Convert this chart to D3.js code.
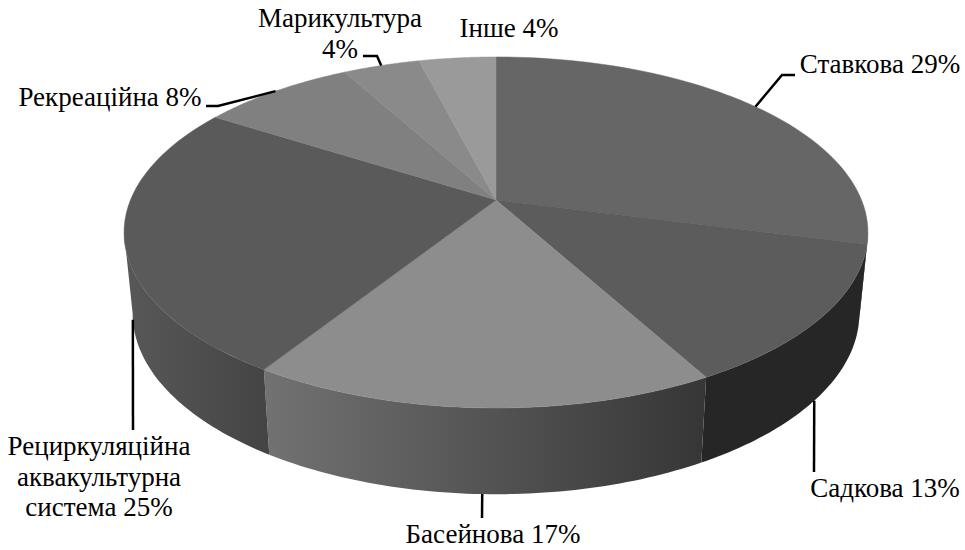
<!DOCTYPE html>
<html>
<head>
<meta charset="utf-8">
<script src="https://cdn.jsdelivr.net/npm/d3@7"></script>
<style>
  html, body { margin: 0; padding: 0; background: #fff; }
  svg { display: block; }
  text { font-family: "Liberation Serif", serif; font-size: 27px; fill: #000; }
</style>
</head>
<body>
<svg></svg>
<script>
const width = 965;
const height = 550;

// shares, clockwise from twelve o'clock; the percentage goes after the last name line
const categories = [
    ['Ставкова'],
    ['Садкова'],
    ['Басейнова'],
    ['Рециркуляційна', 'аквакультурна', 'система'],
    ['Рекреаційна'],
    ['Марикультура', ''],
    ['Інше']
];
const values = [29, 13, 17, 25, 8, 4, 4];

// greys for the top faces and for the two ends of each side wall
const topColors = ['#666666', '#5c5c5c', '#8d8d8d', '#5a5a5a', '#808080', '#8a8a8a', '#9a9a9a'];
const wallLeft = ['#2a2a2a', '#262626', '#727272', '#585858', '#808080', '#8a8a8a', '#9a9a9a'];
const wallRight = ['#2a2a2a', '#262626', '#363636', '#444444', '#808080', '#8a8a8a', '#9a9a9a'];

// where each label is centred, and the leader's elbow points
const labelX = [880, 885, 493, 99, 110, 340, 509];
const labelY = [73, 497, 543, 455, 106, 27, 37];
const leaderElbows = [
    [[782, 75], [795, 75]],
    [[814, 472]],
    [[482, 518]],
    [[133, 430]],
    [[218, 106], [206, 106]],
    [[377, 56], [363, 56]],
    null
];

// perspective of the disc: centre of the top face, radii and foreshortening
const cx = 496;
const cy = 200;
const radiusX = 365.5;
const radiusY = 169.5;
const persp = 0.185;
const lowerScaleX = 0.977;
const lowerScaleY = 1.03;
const lowerY = 280;

// silhouette angles of the disc, where the side walls end
const wallStart = Math.acos(-persp);
const wallEnd = 2 * Math.PI - wallStart;

const svg = d3.select('svg').attr('width', width).attr('height', height);
const defs = svg.append('defs');

const pie = d3.pie().sort(null).value(d => d);
const arcs = pie(values);

function topPoint(a) {
    const d = 1 + persp * Math.cos(a);
    return [cx + radiusX * Math.sin(a) / d, cy - radiusY * Math.cos(a) / d];
}

function bottomPoint(a) {
    const p = topPoint(a);
    return [cx + lowerScaleX * (p[0] - cx), lowerY + lowerScaleY * (p[1] - cy)];
}

function sweep(a0, a1, fn) {
    return d3.range(0, 61).map(i => fn(a0 + (a1 - a0) * i / 60));
}

const line = d3.line();

// side walls, only where they face the viewer
arcs.forEach((d, i) => {
    const a0 = Math.max(d.startAngle, wallStart);
    const a1 = Math.min(d.endAngle, wallEnd);
    if (a1 <= a0) return;
    const upper = sweep(a0, a1, topPoint);
    const lower = sweep(a1, a0, bottomPoint);
    const xs = upper.concat(lower).map(p => p[0]);
    const grad = defs.append('linearGradient')
        .attr('id', 'wall' + i)
        .attr('gradientUnits', 'userSpaceOnUse')
        .attr('x1', d3.min(xs)).attr('x2', d3.max(xs))
        .attr('y1', 0).attr('y2', 0);
    grad.append('stop').attr('offset', 0).attr('stop-color', wallLeft[i]);
    grad.append('stop').attr('offset', 1).attr('stop-color', wallRight[i]);
    svg.append('path')
        .attr('d', line(upper.concat(lower)) + 'Z')
        .attr('fill', 'url(#wall' + i + ')');
});

// top faces
arcs.forEach((d, i) => {
    const rim = sweep(d.startAngle, d.endAngle, topPoint);
    svg.append('path')
        .attr('d', line([[cx, cy]].concat(rim)) + 'Z')
        .attr('fill', topColors[i])
        .attr('stroke', topColors[i])
        .attr('stroke-width', 0.5);
});

// leaders start on the rim at the middle of the slice
arcs.forEach((d, i) => {
    if (!leaderElbows[i]) return;
    const mid = (d.startAngle + d.endAngle) / 2;
    const onWall = mid > wallStart && mid < wallEnd;
    const start = onWall ? bottomPoint(mid) : topPoint(mid);
    svg.append('path')
        .attr('d', line([start].concat(leaderElbows[i])))
        .attr('fill', 'none')
        .attr('stroke', '#000')
        .attr('stroke-width', 2.5);
});

// labels
categories.forEach((lines, i) => {
    lines.forEach((t, j) => {
        const isLast = j === lines.length - 1;
        svg.append('text')
            .attr('x', labelX[i])
            .attr('y', labelY[i] + j * 30.5)
            .attr('text-anchor', 'middle')
            .text(isLast ? (t + ' ' + values[i] + '%').trim() : t);
    });
});
</script>
</body>
</html>
